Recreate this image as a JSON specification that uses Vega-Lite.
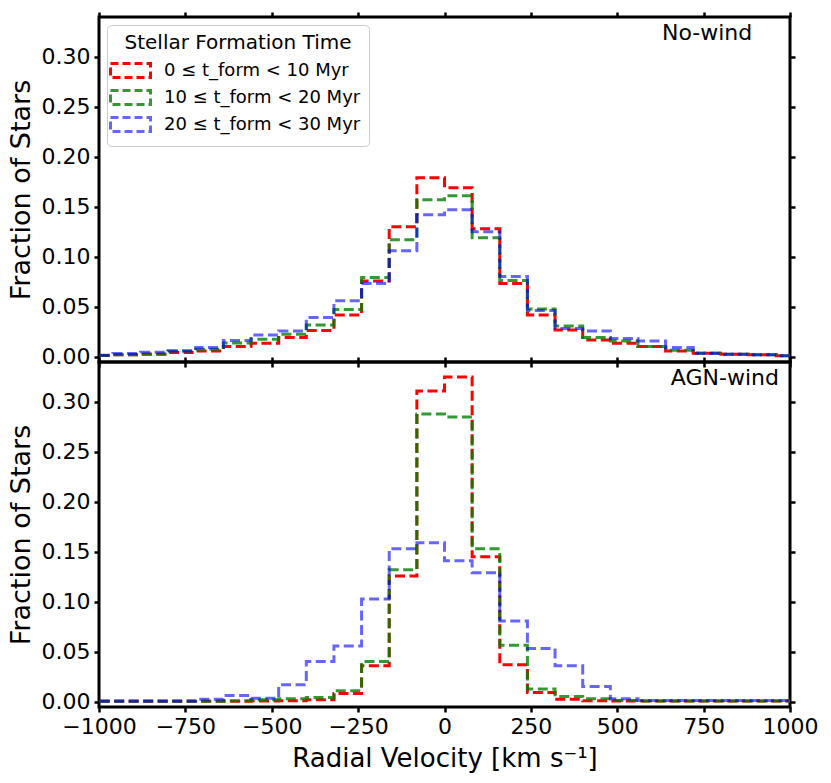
{
  "$schema": "https://vega.github.io/schema/vega-lite/v6.json",
  "background": "white",
  "padding": {"left": 5, "top": 9, "right": 10, "bottom": 10},
  "config": {
    "font": "DejaVu Sans",
    "view": {"stroke": "black", "strokeWidth": 3},
    "axis": {
      "domain": false,
      "grid": false,
      "ticks": true,
      "tickColor": "black",
      "tickWidth": 2.5,
      "tickSize": 5,
      "labelColor": "black",
      "labelFontSize": 22,
      "labelFont": "DejaVu Sans",
      "labelPadding": 4,
      "labelOverlap": false,
      "labelFlush": false,
      "titleColor": "black",
      "titleFont": "DejaVu Sans",
      "titleFontSize": 26,
      "titleFontWeight": "normal"
    },
    "title": {"font": "DejaVu Sans", "fontSize": 22, "fontWeight": "normal", "color": "black"}
  },
  "datasets": {
    "hist": [
      {"p": "No-wind", "g": "a", "v": -1040, "f": 0.001},
      {"p": "No-wind", "g": "a", "v": -960, "f": 0.0017},
      {"p": "No-wind", "g": "a", "v": -880, "f": 0.0023},
      {"p": "No-wind", "g": "a", "v": -800, "f": 0.004},
      {"p": "No-wind", "g": "a", "v": -720, "f": 0.0056},
      {"p": "No-wind", "g": "a", "v": -640, "f": 0.010},
      {"p": "No-wind", "g": "a", "v": -560, "f": 0.0133},
      {"p": "No-wind", "g": "a", "v": -480, "f": 0.019},
      {"p": "No-wind", "g": "a", "v": -400, "f": 0.026},
      {"p": "No-wind", "g": "a", "v": -320, "f": 0.0415},
      {"p": "No-wind", "g": "a", "v": -240, "f": 0.0757},
      {"p": "No-wind", "g": "a", "v": -160, "f": 0.130},
      {"p": "No-wind", "g": "a", "v": -80, "f": 0.179},
      {"p": "No-wind", "g": "a", "v": 0, "f": 0.169},
      {"p": "No-wind", "g": "a", "v": 80, "f": 0.128},
      {"p": "No-wind", "g": "a", "v": 160, "f": 0.073},
      {"p": "No-wind", "g": "a", "v": 240, "f": 0.0415},
      {"p": "No-wind", "g": "a", "v": 320, "f": 0.0266},
      {"p": "No-wind", "g": "a", "v": 400, "f": 0.0166},
      {"p": "No-wind", "g": "a", "v": 480, "f": 0.0133},
      {"p": "No-wind", "g": "a", "v": 560, "f": 0.010},
      {"p": "No-wind", "g": "a", "v": 640, "f": 0.0056},
      {"p": "No-wind", "g": "a", "v": 720, "f": 0.0033},
      {"p": "No-wind", "g": "a", "v": 800, "f": 0.0023},
      {"p": "No-wind", "g": "a", "v": 880, "f": 0.0017},
      {"p": "No-wind", "g": "a", "v": 960, "f": 0.0007},
      {"p": "No-wind", "g": "a", "v": 1040, "f": 0},
      {"p": "No-wind", "g": "b", "v": -1040, "f": 0.001},
      {"p": "No-wind", "g": "b", "v": -960, "f": 0.0017},
      {"p": "No-wind", "g": "b", "v": -880, "f": 0.0025},
      {"p": "No-wind", "g": "b", "v": -800, "f": 0.0056},
      {"p": "No-wind", "g": "b", "v": -720, "f": 0.0073},
      {"p": "No-wind", "g": "b", "v": -640, "f": 0.0136},
      {"p": "No-wind", "g": "b", "v": -560, "f": 0.0173},
      {"p": "No-wind", "g": "b", "v": -480, "f": 0.0223},
      {"p": "No-wind", "g": "b", "v": -400, "f": 0.0316},
      {"p": "No-wind", "g": "b", "v": -320, "f": 0.047},
      {"p": "No-wind", "g": "b", "v": -240, "f": 0.079},
      {"p": "No-wind", "g": "b", "v": -160, "f": 0.117},
      {"p": "No-wind", "g": "b", "v": -80, "f": 0.157},
      {"p": "No-wind", "g": "b", "v": 0, "f": 0.161},
      {"p": "No-wind", "g": "b", "v": 80, "f": 0.119},
      {"p": "No-wind", "g": "b", "v": 160, "f": 0.076},
      {"p": "No-wind", "g": "b", "v": 240, "f": 0.0475},
      {"p": "No-wind", "g": "b", "v": 320, "f": 0.0306},
      {"p": "No-wind", "g": "b", "v": 400, "f": 0.019},
      {"p": "No-wind", "g": "b", "v": 480, "f": 0.0156},
      {"p": "No-wind", "g": "b", "v": 560, "f": 0.010},
      {"p": "No-wind", "g": "b", "v": 640, "f": 0.0063},
      {"p": "No-wind", "g": "b", "v": 720, "f": 0.0035},
      {"p": "No-wind", "g": "b", "v": 800, "f": 0.0023},
      {"p": "No-wind", "g": "b", "v": 880, "f": 0.0017},
      {"p": "No-wind", "g": "b", "v": 960, "f": 0.0007},
      {"p": "No-wind", "g": "b", "v": 1040, "f": 0},
      {"p": "No-wind", "g": "c", "v": -1040, "f": 0.0013},
      {"p": "No-wind", "g": "c", "v": -960, "f": 0.003},
      {"p": "No-wind", "g": "c", "v": -880, "f": 0.0043},
      {"p": "No-wind", "g": "c", "v": -800, "f": 0.0056},
      {"p": "No-wind", "g": "c", "v": -720, "f": 0.009},
      {"p": "No-wind", "g": "c", "v": -640, "f": 0.016},
      {"p": "No-wind", "g": "c", "v": -560, "f": 0.0216},
      {"p": "No-wind", "g": "c", "v": -480, "f": 0.0256},
      {"p": "No-wind", "g": "c", "v": -400, "f": 0.039},
      {"p": "No-wind", "g": "c", "v": -320, "f": 0.0558},
      {"p": "No-wind", "g": "c", "v": -240, "f": 0.073},
      {"p": "No-wind", "g": "c", "v": -160, "f": 0.106},
      {"p": "No-wind", "g": "c", "v": -80, "f": 0.142},
      {"p": "No-wind", "g": "c", "v": 0, "f": 0.147},
      {"p": "No-wind", "g": "c", "v": 80, "f": 0.125},
      {"p": "No-wind", "g": "c", "v": 160, "f": 0.080},
      {"p": "No-wind", "g": "c", "v": 240, "f": 0.046},
      {"p": "No-wind", "g": "c", "v": 320, "f": 0.028},
      {"p": "No-wind", "g": "c", "v": 400, "f": 0.0256},
      {"p": "No-wind", "g": "c", "v": 480, "f": 0.018},
      {"p": "No-wind", "g": "c", "v": 560, "f": 0.0156},
      {"p": "No-wind", "g": "c", "v": 640, "f": 0.009},
      {"p": "No-wind", "g": "c", "v": 720, "f": 0.003},
      {"p": "No-wind", "g": "c", "v": 800, "f": 0.0023},
      {"p": "No-wind", "g": "c", "v": 880, "f": 0.0017},
      {"p": "No-wind", "g": "c", "v": 960, "f": 0.0007},
      {"p": "No-wind", "g": "c", "v": 1040, "f": 0},
      {"p": "AGN-wind", "g": "a", "v": -1040, "f": 0.0003},
      {"p": "AGN-wind", "g": "a", "v": -960, "f": 0.0003},
      {"p": "AGN-wind", "g": "a", "v": -880, "f": 0.0003},
      {"p": "AGN-wind", "g": "a", "v": -800, "f": 0.0003},
      {"p": "AGN-wind", "g": "a", "v": -720, "f": 0.0003},
      {"p": "AGN-wind", "g": "a", "v": -640, "f": 0.0003},
      {"p": "AGN-wind", "g": "a", "v": -560, "f": 0.0004},
      {"p": "AGN-wind", "g": "a", "v": -480, "f": 0.0007},
      {"p": "AGN-wind", "g": "a", "v": -400, "f": 0.0017},
      {"p": "AGN-wind", "g": "a", "v": -320, "f": 0.008},
      {"p": "AGN-wind", "g": "a", "v": -240, "f": 0.0357},
      {"p": "AGN-wind", "g": "a", "v": -160, "f": 0.1257},
      {"p": "AGN-wind", "g": "a", "v": -80, "f": 0.311},
      {"p": "AGN-wind", "g": "a", "v": 0, "f": 0.325},
      {"p": "AGN-wind", "g": "a", "v": 80, "f": 0.145},
      {"p": "AGN-wind", "g": "a", "v": 160, "f": 0.0367},
      {"p": "AGN-wind", "g": "a", "v": 240, "f": 0.009},
      {"p": "AGN-wind", "g": "a", "v": 320, "f": 0.0023},
      {"p": "AGN-wind", "g": "a", "v": 400, "f": 0.0007},
      {"p": "AGN-wind", "g": "a", "v": 480, "f": 0.0004},
      {"p": "AGN-wind", "g": "a", "v": 560, "f": 0.0004},
      {"p": "AGN-wind", "g": "a", "v": 640, "f": 0.0004},
      {"p": "AGN-wind", "g": "a", "v": 720, "f": 0.0004},
      {"p": "AGN-wind", "g": "a", "v": 800, "f": 0.0004},
      {"p": "AGN-wind", "g": "a", "v": 880, "f": 0.0004},
      {"p": "AGN-wind", "g": "a", "v": 960, "f": 0.0004},
      {"p": "AGN-wind", "g": "a", "v": 1040, "f": 0},
      {"p": "AGN-wind", "g": "b", "v": -1040, "f": 0.0003},
      {"p": "AGN-wind", "g": "b", "v": -960, "f": 0.0003},
      {"p": "AGN-wind", "g": "b", "v": -880, "f": 0.0003},
      {"p": "AGN-wind", "g": "b", "v": -800, "f": 0.0003},
      {"p": "AGN-wind", "g": "b", "v": -720, "f": 0.0003},
      {"p": "AGN-wind", "g": "b", "v": -640, "f": 0.0007},
      {"p": "AGN-wind", "g": "b", "v": -560, "f": 0.0017},
      {"p": "AGN-wind", "g": "b", "v": -480, "f": 0.0027},
      {"p": "AGN-wind", "g": "b", "v": -400, "f": 0.004},
      {"p": "AGN-wind", "g": "b", "v": -320, "f": 0.0107},
      {"p": "AGN-wind", "g": "b", "v": -240, "f": 0.040},
      {"p": "AGN-wind", "g": "b", "v": -160, "f": 0.132},
      {"p": "AGN-wind", "g": "b", "v": -80, "f": 0.288},
      {"p": "AGN-wind", "g": "b", "v": 0, "f": 0.285},
      {"p": "AGN-wind", "g": "b", "v": 80, "f": 0.153},
      {"p": "AGN-wind", "g": "b", "v": 160, "f": 0.0563},
      {"p": "AGN-wind", "g": "b", "v": 240, "f": 0.0125},
      {"p": "AGN-wind", "g": "b", "v": 320, "f": 0.005},
      {"p": "AGN-wind", "g": "b", "v": 400, "f": 0.0027},
      {"p": "AGN-wind", "g": "b", "v": 480, "f": 0.001},
      {"p": "AGN-wind", "g": "b", "v": 560, "f": 0.0005},
      {"p": "AGN-wind", "g": "b", "v": 640, "f": 0.0005},
      {"p": "AGN-wind", "g": "b", "v": 720, "f": 0.0005},
      {"p": "AGN-wind", "g": "b", "v": 800, "f": 0.0005},
      {"p": "AGN-wind", "g": "b", "v": 880, "f": 0.0005},
      {"p": "AGN-wind", "g": "b", "v": 960, "f": 0.0005},
      {"p": "AGN-wind", "g": "b", "v": 1040, "f": 0},
      {"p": "AGN-wind", "g": "c", "v": -1040, "f": 0.0004},
      {"p": "AGN-wind", "g": "c", "v": -960, "f": 0.0004},
      {"p": "AGN-wind", "g": "c", "v": -880, "f": 0.0004},
      {"p": "AGN-wind", "g": "c", "v": -800, "f": 0.0004},
      {"p": "AGN-wind", "g": "c", "v": -720, "f": 0.0023},
      {"p": "AGN-wind", "g": "c", "v": -640, "f": 0.006},
      {"p": "AGN-wind", "g": "c", "v": -560, "f": 0.0033},
      {"p": "AGN-wind", "g": "c", "v": -480, "f": 0.0167},
      {"p": "AGN-wind", "g": "c", "v": -400, "f": 0.040},
      {"p": "AGN-wind", "g": "c", "v": -320, "f": 0.0555},
      {"p": "AGN-wind", "g": "c", "v": -240, "f": 0.1027},
      {"p": "AGN-wind", "g": "c", "v": -160, "f": 0.153},
      {"p": "AGN-wind", "g": "c", "v": -80, "f": 0.159},
      {"p": "AGN-wind", "g": "c", "v": 0, "f": 0.141},
      {"p": "AGN-wind", "g": "c", "v": 80, "f": 0.129},
      {"p": "AGN-wind", "g": "c", "v": 160, "f": 0.0807},
      {"p": "AGN-wind", "g": "c", "v": 240, "f": 0.053},
      {"p": "AGN-wind", "g": "c", "v": 320, "f": 0.0357},
      {"p": "AGN-wind", "g": "c", "v": 400, "f": 0.015},
      {"p": "AGN-wind", "g": "c", "v": 480, "f": 0.0027},
      {"p": "AGN-wind", "g": "c", "v": 560, "f": 0.001},
      {"p": "AGN-wind", "g": "c", "v": 640, "f": 0.001},
      {"p": "AGN-wind", "g": "c", "v": 720, "f": 0.001},
      {"p": "AGN-wind", "g": "c", "v": 800, "f": 0.001},
      {"p": "AGN-wind", "g": "c", "v": 880, "f": 0.001},
      {"p": "AGN-wind", "g": "c", "v": 960, "f": 0.001},
      {"p": "AGN-wind", "g": "c", "v": 1040, "f": 0}
    ]
  },
  "spacing": 0,
  "bounds": "flush",
  "resolve": {"legend": {"color": "independent"}, "scale": {"x": "independent", "y": "independent"}},
  "vconcat": [
    {
      "width": 691,
      "height": 345,
      "title": {"text": "No-wind", "anchor": "end", "offset": -34, "dx": -44},
      "data": {"name": "hist"},
      "transform": [{"filter": "datum.p == 'No-wind'"}],
      "resolve": {"axis": {"x": "independent", "y": "independent"}},
      "layer": [
        {
          "mark": {"type": "line", "interpolate": "step-after", "strokeWidth": 3, "strokeDash": [10, 4.5], "clip": true},
          "encoding": {
            "x": {"field": "v", "type": "quantitative", "scale": {"domain": [-1000, 1000], "nice": false, "zero": false},
                  "axis": {"orient": "bottom", "values": [-1000, -750, -500, -250, 0, 250, 500, 750, 1000], "labels": false, "title": null}},
            "y": {"field": "f", "type": "quantitative", "scale": {"domain": [-0.0055, 0.34], "nice": false, "zero": false},
                  "axis": {"orient": "left", "values": [0, 0.05, 0.1, 0.15, 0.2, 0.25, 0.3], "format": ".2f", "title": "Fraction of Stars", "titleFontSize": 27, "titlePadding": 6}},
            "color": {"field": "g", "type": "nominal",
                      "scale": {"domain": ["a", "b", "c"], "range": ["#ff0000", "rgba(0,128,0,0.8)", "rgba(0,0,255,0.6)"]},
                      "legend": {
                        "orient": "top-left", "offset": 8, "title": "Stellar Formation Time",
                        "titleFontSize": 20, "titleFontWeight": "normal", "titleColor": "black", "titleAnchor": "middle", "titlePadding": 6, "titleLimit": 400,
                        "labelFontSize": 18, "labelColor": "black", "labelLimit": 400, "labelOffset": 22,
                        "labelExpr": "{'a': '0 ≤ t_form < 10 Myr', 'b': '10 ≤ t_form < 20 Myr', 'c': '20 ≤ t_form < 30 Myr'}[datum.value]",
                        "symbolType": "M-2,-0.7L2,-0.7L2,0.7L-2,0.7Z", "symbolSize": 400, "symbolOffset": 4,
                        "symbolStrokeWidth": 3, "symbolDash": [8, 4], "symbolFillColor": "transparent", "rowPadding": 0,
                        "fillColor": "white", "strokeColor": "#cccccc", "cornerRadius": 4, "padding": 8
                      }}
          }
        },
        {
          "mark": {"type": "point", "opacity": 0, "clip": true},
          "encoding": {
            "x": {"field": "v", "type": "quantitative", "scale": {"domain": [-1000, 1000], "nice": false, "zero": false},
                  "axis": {"orient": "top", "values": [-1000, -750, -500, -250, 0, 250, 500, 750, 1000], "labels": false, "title": null}},
            "y": {"field": "f", "type": "quantitative", "scale": {"domain": [-0.0055, 0.34], "nice": false, "zero": false},
                  "axis": {"orient": "right", "values": [0, 0.05, 0.1, 0.15, 0.2, 0.25, 0.3], "labels": false, "title": null}}
          }
        }
      ]
    },
    {
      "width": 691,
      "height": 345,
      "title": {"text": "AGN-wind", "anchor": "end", "offset": -34, "dx": -39},
      "data": {"name": "hist"},
      "transform": [{"filter": "datum.p == 'AGN-wind'"}],
      "resolve": {"axis": {"x": "independent", "y": "independent"}},
      "layer": [
        {
          "mark": {"type": "line", "interpolate": "step-after", "strokeWidth": 3, "strokeDash": [10, 4.5], "clip": true},
          "encoding": {
            "x": {"field": "v", "type": "quantitative", "scale": {"domain": [-1000, 1000], "nice": false, "zero": false},
                  "axis": {"orient": "bottom", "values": [-1000, -750, -500, -250, 0, 250, 500, 750, 1000], "format": "d", "title": "Radial Velocity [km s⁻¹]", "titlePadding": 8}},
            "y": {"field": "f", "type": "quantitative", "scale": {"domain": [-0.0055, 0.34], "nice": false, "zero": false},
                  "axis": {"orient": "left", "values": [0, 0.05, 0.1, 0.15, 0.2, 0.25, 0.3], "format": ".2f", "title": "Fraction of Stars", "titleFontSize": 27, "titlePadding": 6}},
            "color": {"field": "g", "type": "nominal",
                      "scale": {"domain": ["a", "b", "c"], "range": ["#ff0000", "rgba(0,128,0,0.8)", "rgba(0,0,255,0.6)"]},
                      "legend": null}
          }
        },
        {
          "mark": {"type": "point", "opacity": 0, "clip": true},
          "encoding": {
            "x": {"field": "v", "type": "quantitative", "scale": {"domain": [-1000, 1000], "nice": false, "zero": false},
                  "axis": {"orient": "top", "values": [-1000, -750, -500, -250, 0, 250, 500, 750, 1000], "labels": false, "title": null}},
            "y": {"field": "f", "type": "quantitative", "scale": {"domain": [-0.0055, 0.34], "nice": false, "zero": false},
                  "axis": {"orient": "right", "values": [0, 0.05, 0.1, 0.15, 0.2, 0.25, 0.3], "labels": false, "title": null}}
          }
        }
      ]
    }
  ]
}
